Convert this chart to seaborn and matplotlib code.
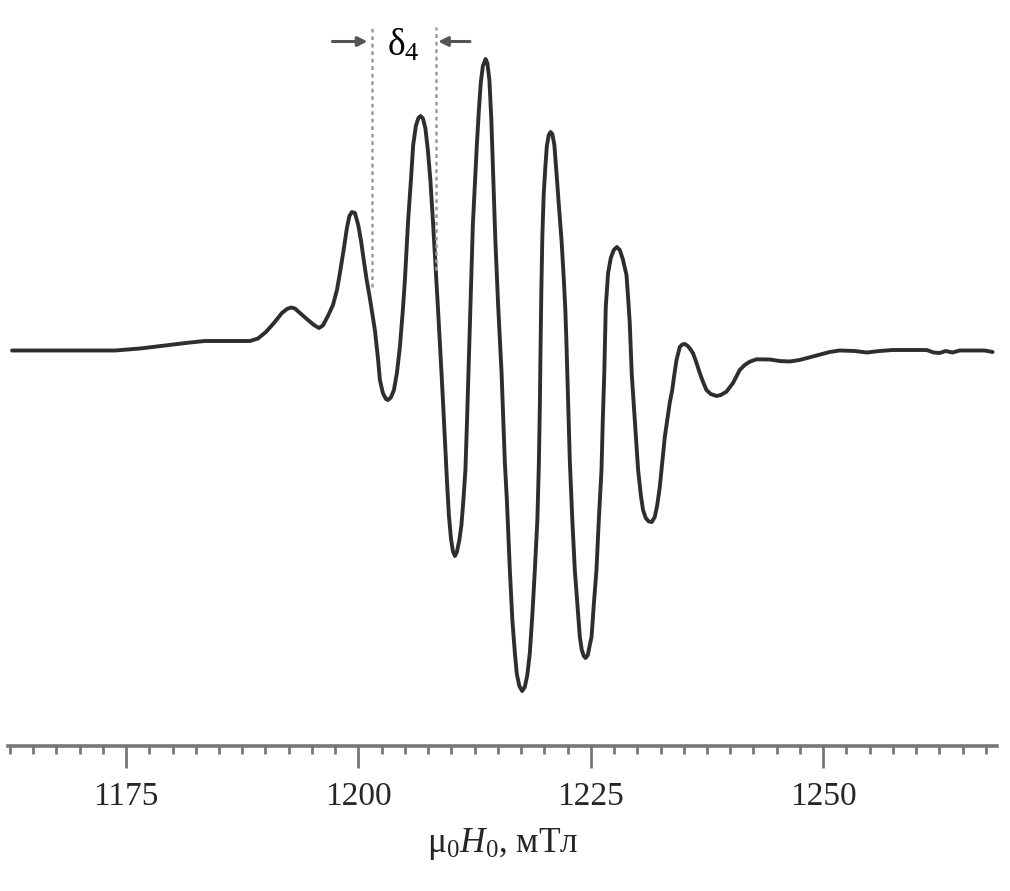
import matplotlib
matplotlib.use("Agg")
import matplotlib.pyplot as plt
import seaborn as sns
import numpy as np
import pandas as pd

# ---- data ----
# magnetic field, mT
field_mT = [
    1162.74, 1167.90, 1173.82, 1176.51, 1179.19, 1181.88, 1183.49, 1186.18, 1188.33, 1189.19,
    1190.05, 1190.91, 1191.77, 1192.31, 1192.74, 1193.17, 1193.71, 1194.57, 1195.22, 1195.75,
    1196.18, 1196.72, 1197.26, 1197.69, 1198.01, 1198.44, 1198.76, 1199.03, 1199.30, 1199.62,
    1199.98, 1200.30, 1200.57, 1200.89, 1201.21, 1201.77, 1202.10, 1202.31, 1202.63, 1202.96,
    1203.17, 1203.49, 1203.82, 1204.14, 1204.46, 1204.78, 1205.00, 1205.35, 1205.65, 1205.89,
    1206.18, 1206.45, 1206.69, 1206.94, 1207.20, 1207.47, 1207.74, 1208.01, 1208.23, 1208.39,
    1208.58, 1208.76, 1208.92, 1209.09, 1209.30, 1209.52, 1209.73, 1209.95, 1210.16, 1210.38,
    1210.59, 1210.86, 1211.08, 1211.27, 1211.51, 1211.67, 1211.83, 1211.99, 1212.15, 1212.31,
    1212.53, 1212.74, 1212.96, 1213.17, 1213.39, 1213.68, 1213.87, 1214.09, 1214.30, 1214.52,
    1214.73, 1215.03, 1215.40, 1215.59, 1215.75, 1215.97, 1216.29, 1216.56, 1216.83, 1217.04,
    1217.31, 1217.61, 1217.90, 1218.17, 1218.44, 1218.71, 1218.98, 1219.25, 1219.41, 1219.52,
    1219.59, 1219.68, 1219.79, 1219.93, 1220.11, 1220.27, 1220.48, 1220.67, 1220.86, 1221.08,
    1221.31, 1221.56, 1221.85, 1222.10, 1222.26, 1222.37, 1222.47, 1222.58, 1222.74, 1223.01,
    1223.28, 1223.60, 1223.82, 1224.03, 1224.25, 1224.43, 1224.68, 1224.89, 1225.08, 1225.32,
    1225.61, 1225.86, 1226.15, 1226.29, 1226.45, 1226.61, 1226.86, 1227.15, 1227.47, 1227.80,
    1228.12, 1228.44, 1228.84, 1229.03, 1229.19, 1229.30, 1229.41, 1229.73, 1230.09, 1230.38,
    1230.62, 1230.91, 1231.24, 1231.56, 1231.88, 1232.15, 1232.42, 1232.69, 1232.96, 1233.23,
    1233.49, 1233.76, 1233.98, 1234.22, 1234.57, 1234.84, 1235.11, 1235.43, 1235.70, 1236.00,
    1236.34, 1236.72, 1237.08, 1237.44, 1237.90, 1238.52, 1238.98, 1239.59, 1240.30, 1241.02,
    1241.56, 1242.10, 1242.82, 1244.25, 1245.32, 1246.40, 1247.47, 1249.09, 1250.70, 1251.77,
    1253.39, 1254.68, 1256.08, 1257.47, 1259.30, 1261.13, 1261.88, 1262.53, 1263.17, 1263.92,
    1264.68, 1266.29, 1267.37, 1268.23,
]
# EPR derivative signal, arbitrary units
signal = [
    -0.5, -0.5, -0.5, 1.5, 4.5, 7.5, 9, 9, 9, 11.5,
    18, 27, 37, 41, 42.5, 41.5, 37, 30, 25, 22,
    24.5, 34, 45, 60, 77, 102, 122, 134, 138, 137,
    125, 108, 90, 70, 53, 20, -8, -30, -43, -49,
    -50, -47.5, -40, -23, 3, 40, 70, 130, 170, 205,
    224, 232, 234, 231.5, 222, 200, 170, 130, 95, 70,
    38, 8, -20, -50, -90, -130, -165, -188, -201, -206,
    -202, -190, -175, -153, -120, -75, -25, 25, 75, 125,
    165, 205, 240, 268, 284, 291, 287, 270, 230, 170,
    110, 45, -23, -70, -112, -150, -220, -270, -303, -324,
    -336, -341, -337, -325, -303, -265, -220, -170, -115, -55,
    0, 60, 115, 155, 183, 204, 215, 218, 216, 205,
    177, 145, 110, 70, 40, 10, -23, -60, -110, -170,
    -220, -260, -287, -300, -306, -308, -305, -295, -287, -255,
    -220, -170, -120, -70, -23, 43, 77, 92, 100, 103,
    100, 91, 75, 50, 27, 0, -25, -70, -120, -145,
    -160, -168, -171.5, -172, -167, -155, -137, -112, -87, -70,
    -53, -40, -25, -10, 3, 5.5, 6, 4, 1, -3.3,
    -12, -23, -32, -40, -44, -46, -45, -41.7, -33, -20,
    -15, -11.7, -9.3, -9.5, -11, -11.5, -10, -6, -2, -0.5,
    -1, -2.5, -1, 0, 0, 0, -2.5, -3, -1, -2.5,
    -0.5, -0.5, -0.5, -2,
]
major_ticks = [1175, 1200, 1225, 1250]
major_labels = ["1175", "1200", "1225", "1250"]
delta_lines_x = [1201.42, 1208.33]      # dotted guide lines (mT)
delta_lines_bottom = [63, 80]          # where they meet the curve
delta_label = "δ$_4$"
x_label = "μ$_0$$H_0$, мТл"

df = pd.DataFrame({"field": field_mT, "signal": signal})

# ---- style ----
sns.set_theme(style="white")
plt.rcParams["font.family"] = ["Liberation Serif", "DejaVu Serif"]
plt.rcParams["mathtext.fontset"] = "custom"
plt.rcParams["mathtext.rm"] = "Liberation Serif"
plt.rcParams["mathtext.it"] = "Liberation Serif:italic"

W, H = 1010, 891
fig = plt.figure(figsize=(W / 100, H / 100), dpi=100)
ax = fig.add_axes([8 / W, (H - 746) / H, (997 - 8) / W, (746 - 20) / H])

sns.lineplot(data=df, x="field", y="signal", sort=False, estimator=None,
             color="#2e2e2e", linewidth=2.8, ax=ax)
for ln in ax.get_lines():
    ln.set_solid_joinstyle("round")
    ln.set_solid_capstyle("round")

ax.set_xlim(1162.3, 1268.7)
ax.set_ylim(-396, 330)

# guide lines and arrows
top_y = 323
for xv, yb in zip(delta_lines_x, delta_lines_bottom):
    ax.plot([xv, xv], [yb, top_y], color="#9a9a9a", linewidth=1.8,
            linestyle=(0, (1.5, 1.5)))
arrow_y = 308.5
ax.annotate("", xy=(delta_lines_x[0] - 0.45, arrow_y), xytext=(1197.2, arrow_y),
            arrowprops=dict(arrowstyle="-|>", color="#555555", lw=2.2,
                            mutation_scale=14, shrinkA=0, shrinkB=0))
ax.annotate("", xy=(delta_lines_x[1] + 0.25, arrow_y), xytext=(1212.0, arrow_y),
            arrowprops=dict(arrowstyle="-|>", color="#555555", lw=2.2,
                            mutation_scale=14, shrinkA=0, shrinkB=0))
ax.text((delta_lines_x[0] + delta_lines_x[1]) / 2, 305, delta_label,
        ha="center", va="center", fontsize=27, color="black")

# axes styling
for s in ["left", "top", "right"]:
    ax.spines[s].set_visible(False)
ax.spines["bottom"].set_color("#777777")
ax.spines["bottom"].set_linewidth(2.6)
ax.set_yticks([])
ax.set_xticks(major_ticks)
ax.set_xticklabels(major_labels)
ax.set_xticks(np.arange(1162.5, 1268.0, 2.5), minor=True)
ax.tick_params(axis="x", which="major", direction="out", length=16, width=2.0,
               color="#777777", labelsize=24, pad=9.5, bottom=True)
ax.tick_params(axis="x", which="minor", direction="out", length=6, width=2.0,
               color="#777777", bottom=True)
ax.set_xlabel(x_label, fontsize=25.5, labelpad=10)
ax.set_ylabel("")
ax.grid(False)

fig.savefig("out.png", dpi=100, facecolor="white")
